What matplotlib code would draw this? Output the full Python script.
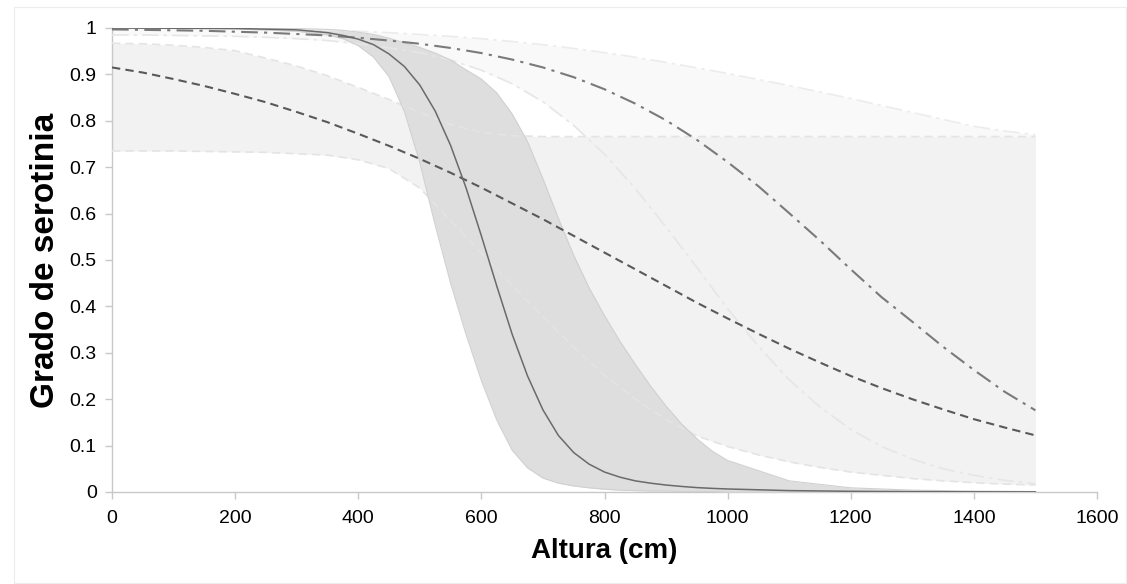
import matplotlib
matplotlib.use("Agg")
import matplotlib.pyplot as plt
from matplotlib.patches import Rectangle

plt.rcParams['font.family'] = ['Liberation Sans', 'DejaVu Sans']

# altura (cm) for the two wide curves
altura = [0, 50, 100, 150, 200, 250, 300, 350, 400, 450, 500, 550, 600, 650, 700, 750,
          800, 850, 900, 950, 1000, 1050, 1100, 1150, 1200, 1250, 1300, 1350, 1400, 1450, 1500]
# finer steps for the steep solid curve
altura_fina = [0, 100, 200, 300, 350, 375, 400, 425, 450, 475, 500, 525, 550, 575, 600, 625, 650, 675,
               700, 725, 750, 775, 800, 825, 850, 875, 900, 925, 950, 975, 1000, 1100, 1200, 1300, 1400, 1500]

# solid curve + its interval (dark band)
solida = [1.0, 0.9995, 0.999, 0.996, 0.990, 0.984, 0.976, 0.964, 0.944, 0.917, 0.877, 0.821, 0.747, 0.656,
          0.552, 0.444, 0.34, 0.25, 0.177, 0.122, 0.085, 0.060, 0.043, 0.032, 0.024, 0.019, 0.015, 0.012,
          0.0095, 0.0078, 0.0065, 0.003, 0.0015, 0.0008, 0.0004, 0.0002]
solida_sup = [1.0, 1.0, 1.0, 0.999, 0.997, 0.995, 0.991, 0.986, 0.978, 0.968, 0.958, 0.946, 0.931, 0.91,
              0.89, 0.86, 0.815, 0.755, 0.675, 0.59, 0.51, 0.44, 0.38, 0.325, 0.275, 0.228, 0.185, 0.147,
              0.115, 0.088, 0.068, 0.024, 0.009, 0.004, 0.002, 0.001]
solida_inf = [1.0, 0.9995, 0.998, 0.993, 0.985, 0.977, 0.962, 0.937, 0.895, 0.82, 0.71, 0.575, 0.45, 0.34,
              0.24, 0.155, 0.09, 0.052, 0.03, 0.019, 0.013, 0.009, 0.006, 0.004, 0.003, 0.002, 0.002, 0.001,
              0.001, 0.001, 0.0, 0.0, 0.0, 0.0, 0.0, 0.0]

# dashed curve + interval
discontinua = [0.915, 0.904, 0.890, 0.875, 0.858, 0.840, 0.819, 0.797, 0.772, 0.746, 0.718, 0.688, 0.656, 0.622,
               0.588, 0.552, 0.516, 0.480, 0.444, 0.408, 0.374, 0.341, 0.309, 0.279, 0.250, 0.224, 0.200, 0.178,
               0.157, 0.139, 0.122]
discontinua_sup = [0.967, 0.966, 0.963, 0.958, 0.951, 0.935, 0.918, 0.897, 0.872, 0.846, 0.818, 0.792, 0.775, 0.768,
                   0.766, 0.766, 0.766, 0.766, 0.766, 0.766, 0.766, 0.766, 0.766, 0.766, 0.766, 0.766, 0.766, 0.766,
                   0.766, 0.766, 0.766]
discontinua_inf = [0.735, 0.735, 0.735, 0.734, 0.733, 0.732, 0.729, 0.726, 0.716, 0.697, 0.655, 0.585, 0.515, 0.445,
                   0.378, 0.312, 0.252, 0.200, 0.156, 0.121, 0.098, 0.080, 0.065, 0.053, 0.043, 0.036, 0.029, 0.024,
                   0.020, 0.017, 0.015]

# dash-dot curve + interval
punto_raya = [0.997, 0.996, 0.995, 0.994, 0.992, 0.990, 0.987, 0.984, 0.979, 0.973, 0.966, 0.957, 0.946, 0.932,
              0.915, 0.894, 0.868, 0.837, 0.801, 0.759, 0.711, 0.659, 0.601, 0.542, 0.480, 0.420, 0.367, 0.313,
              0.263, 0.216, 0.176]
punto_raya_sup = [0.999, 0.999, 0.999, 0.998, 0.998, 0.997, 0.996, 0.995, 0.993, 0.990, 0.986, 0.982, 0.977, 0.971,
                  0.964, 0.956, 0.947, 0.937, 0.926, 0.914, 0.902, 0.889, 0.876, 0.862, 0.848, 0.833, 0.818, 0.803,
                  0.788, 0.778, 0.770]
punto_raya_inf = [0.985, 0.985, 0.984, 0.983, 0.982, 0.980, 0.977, 0.973, 0.966, 0.957, 0.947, 0.931, 0.909, 0.880,
                  0.841, 0.790, 0.728, 0.654, 0.571, 0.484, 0.395, 0.314, 0.242, 0.183, 0.135, 0.098, 0.071, 0.050,
                  0.036, 0.025, 0.018]

fig = plt.figure(figsize=(11.27, 5.84), dpi=100)
ax = fig.add_axes([112 / 1127, 1 - 492 / 584, 985 / 1127, 464 / 584])

# bands
ax.fill_between(altura, punto_raya_inf, punto_raya_sup, color='#f9f9f9', lw=0, zorder=1)
ax.fill_between(altura, discontinua_inf, discontinua_sup, color='#f2f2f2', lw=0, zorder=2)
ax.fill_between(altura_fina, solida_inf, solida_sup, color='#dedede', lw=0, zorder=3)

# faint band limits
ax.plot(altura, punto_raya_sup, color='#ececec', lw=1.2, dashes=(10, 3, 2, 3), zorder=4)
ax.plot(altura, punto_raya_inf, color='#e6e6e6', lw=1.2, dashes=(10, 3, 2, 3), zorder=4)
ax.plot(altura, discontinua_sup, color='#e4e4e4', lw=1.2, dashes=(5, 3), zorder=4)
ax.plot(altura, discontinua_inf, color='#e4e4e4', lw=1.2, dashes=(5, 3), zorder=4)
ax.plot(altura_fina, solida_sup, color='#d0d0d0', lw=0.8, zorder=4)
ax.plot(altura_fina, solida_inf, color='#d0d0d0', lw=0.8, zorder=4)

# main curves
ax.plot(altura, punto_raya, color='#7a7a7a', lw=1.5, dashes=(8, 3, 1.5, 3), zorder=5)
ax.plot(altura, discontinua, color='#595959', lw=1.5, dashes=(4, 2.5), zorder=5)
ax.plot(altura_fina, solida, color='#6a6a6a', lw=1.1, zorder=5)

ax.set_xlim(0, 1600)
ax.set_ylim(0, 1)
ax.set_xticks(range(0, 1601, 200))
ax.set_yticks([i / 10 for i in range(11)])
ax.set_yticklabels(['0', '0.1', '0.2', '0.3', '0.4', '0.5', '0.6', '0.7', '0.8', '0.9', '1'])
for s in ['top', 'right']:
    ax.spines[s].set_visible(False)
for s in ['left', 'bottom']:
    ax.spines[s].set_color('#c8c8c8')
    ax.spines[s].set_linewidth(1.0)
ax.tick_params(axis='both', colors='#c8c8c8', length=5, width=1.0, labelsize=14, labelcolor='black')
ax.tick_params(axis='x', pad=8)
ax.tick_params(axis='y', pad=6)
ax.set_xlabel('Altura (cm)', fontsize=20, fontweight='bold', labelpad=8)
ax.set_ylabel('Grado de serotinia', fontsize=24, fontweight='bold', labelpad=6)

fig.patches.append(Rectangle((14 / 1127, 0.002), 1 - 15 / 1127, 1 - 7 / 584 - 0.002,
                             transform=fig.transFigure, fill=False, ec='#ececec', lw=0.8))

fig.savefig('out.png', dpi=100)
